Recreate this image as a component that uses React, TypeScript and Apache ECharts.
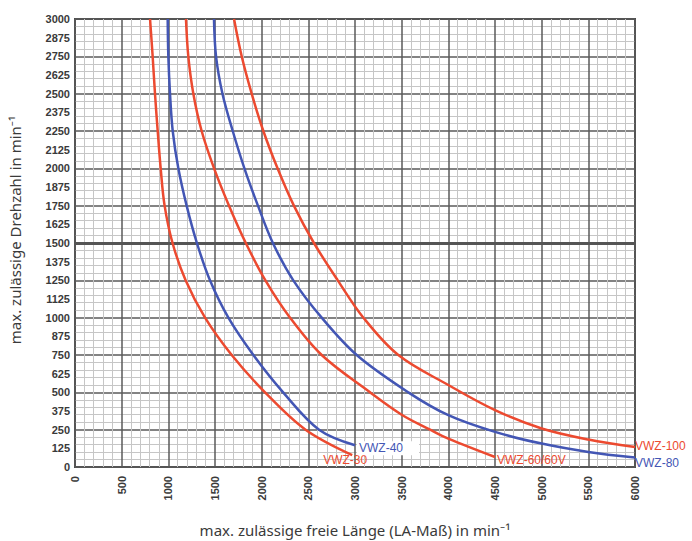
import React, { useEffect, useRef } from "react";
import * as echarts from "echarts";

// ---------- data ----------
const X_TICKS = [0, 500, 1000, 1500, 2000, 2500, 3000, 3500, 4000, 4500, 5000, 5500, 6000];
const Y_TICKS = [0, 125, 250, 375, 500, 625, 750, 875, 1000, 1125, 1250, 1375, 1500, 1625, 1750, 1875, 2000, 2125, 2250, 2375, 2500, 2625, 2750, 2875, 3000];

const SERIES_NAMES = ["VWZ-30", "VWZ-40", "VWZ-60/60V", "VWZ-80", "VWZ-100"];

const vwz30 = [
  [804, 3000], [832, 2750], [857, 2500], [886, 2250], [918, 2000], [960, 1750],
  [1045, 1500], [1185, 1250], [1393, 1000], [1679, 750], [2036, 500], [2470, 250], [2970, 80],
];
const vwz40 = [
  [993, 3000], [1000, 2750], [1018, 2500], [1047, 2250], [1107, 2000], [1196, 1750],
  [1306, 1500], [1446, 1250], [1643, 1000], [1911, 750], [2230, 500], [2615, 250], [3000, 146],
];
const vwz60 = [
  [1189, 3000], [1214, 2750], [1268, 2500], [1357, 2250], [1490, 2000], [1650, 1750],
  [1830, 1500], [2040, 1250], [2304, 1000], [2643, 750], [3161, 500], [3500, 350],
  [3804, 250], [4000, 190], [4500, 67],
];
const vwz80 = [
  [1489, 3000], [1511, 2750], [1580, 2500], [1690, 2250], [1815, 2000], [1960, 1750],
  [2120, 1500], [2339, 1250], [2643, 1000], [3018, 750], [3571, 500], [4000, 347],
  [4500, 235], [5000, 157], [5500, 101], [6000, 63],
];
const vwz100 = [
  [1704, 3000], [1786, 2750], [1893, 2500], [2018, 2250], [2170, 2000], [2345, 1750],
  [2560, 1500], [2815, 1250], [3090, 1000], [3464, 750], [4000, 549],
  [4500, 381], [5000, 258], [5500, 184], [6000, 134],
];

const SERIES_DATA = [vwz30, vwz40, vwz60, vwz80, vwz100];

const RED = "#ec4a30";
const BLUE = "#4356b4";
const SERIES_COLORS = [RED, BLUE, RED, BLUE, RED];
const LABEL_OFFSETS: [number, number][] = [[-29, 5], [2, 3], [2, 3], [0, 5], [0, -1]];

const X_TITLE = "max. zulässige freie Länge (LA-Maß) in min⁻¹";
const Y_TITLE = "max. zulässige Drehzahl in min⁻¹";

const TICK_FONT = "'Liberation Sans Narrow', 'Arial Narrow', 'Liberation Sans', Arial, sans-serif";
const TITLE_FONT = "'Noto Sans', 'Open Sans', sans-serif";

export default function App() {
  const ref = useRef<HTMLDivElement>(null);

  useEffect(() => {
    document.body.style.margin = "0";
    if (!ref.current) return;
    const chart = echarts.init(ref.current, undefined, { renderer: "svg" });

    const xStep = X_TICKS[1] - X_TICKS[0];
    const yStep = Y_TICKS[1] - Y_TICKS[0];

    const series: any[] = SERIES_DATA.map((d, i) => ({
      type: "line",
      name: SERIES_NAMES[i],
      data: d,
      smooth: 0.35,
      showSymbol: false,
      symbol: "none",
      z: 5,
      lineStyle: { color: SERIES_COLORS[i], width: 2.5 },
      markPoint: {
        silent: true,
        symbol: "circle",
        symbolSize: 0,
        z: 6,
        data: [
          {
            coord: d[d.length - 1],
            label: {
              show: true,
              position: "right",
              distance: 0,
              offset: LABEL_OFFSETS[i],
              formatter: SERIES_NAMES[i],
              color: SERIES_COLORS[i],
              fontSize: 12,
              lineHeight: 12,
              fontFamily: "'Liberation Sans', Arial, sans-serif",
              ...(i === 1
                ? { backgroundColor: "#ffffff", padding: [1, 16, 1, 2] }
                : {}),
            },
          },
        ],
      },
    }));

    // thick 1500 reference line
    series[0].markLine = {
      silent: true,
      symbol: "none",
      label: { show: false },
      lineStyle: { color: "#555", width: 3, type: "solid" },
      data: [{ yAxis: 1500 }],
      z: 3,
    };

    const tickLabel = {
      fontSize: 11,
      fontWeight: "bold",
      color: "#3a3a3a",
      fontFamily: TICK_FONT,
      formatter: (v: number) => String(v),
    };

    chart.setOption({
      animation: false,
      backgroundColor: "#ffffff",
      grid: {
        left: 75,
        right: 57,
        top: 19,
        bottom: 74,
        containLabel: false,
        outerBoundsMode: "none",
        show: true,
        borderColor: "#4a4a4a",
        borderWidth: 2,
        backgroundColor: "#ffffff",
      },
      graphic: [
        {
          type: "text",
          x: 355,
          y: 530,
          style: {
            text: X_TITLE,
            fontSize: 15,
            fill: "#3a3a3a",
            fontFamily: TITLE_FONT,
            align: "center",
            verticalAlign: "middle",
          },
        },
        {
          type: "text",
          x: 15,
          y: 230,
          rotation: Math.PI / 2,
          style: {
            text: Y_TITLE,
            fontSize: 15,
            fill: "#3a3a3a",
            fontFamily: TITLE_FONT,
            align: "center",
            verticalAlign: "middle",
          },
        },
      ],
      xAxis: {
        type: "value",
        min: X_TICKS[0],
        max: X_TICKS[X_TICKS.length - 1],
        interval: xStep,
        axisLine: { show: false },
        axisTick: { show: false },
        axisLabel: { ...tickLabel, rotate: 90, margin: 9 },
        splitLine: { show: true, lineStyle: { color: "#5a5a5a", width: 1.5 } },
        minorTick: { show: false, splitNumber: 5 },
        minorSplitLine: { show: true, lineStyle: { color: "#c6c6c6", width: 1 } },
      },
      yAxis: [
        {
          type: "value",
          min: Y_TICKS[0],
          max: Y_TICKS[Y_TICKS.length - 1],
          interval: yStep,
          axisLine: { show: false },
          axisTick: { show: false },
          splitLine: { show: false },
          axisLabel: { ...tickLabel, margin: 5 },
        },
        {
          type: "value",
          position: "right",
          min: Y_TICKS[0],
          max: Y_TICKS[Y_TICKS.length - 1],
          interval: yStep * 2,
          axisLine: { show: false },
          axisTick: { show: false },
          axisLabel: { show: false },
          splitLine: { show: true, lineStyle: { color: "#5a5a5a", width: 1.5 } },
          minorTick: { show: false, splitNumber: 5 },
          minorSplitLine: { show: true, lineStyle: { color: "#c6c6c6", width: 1 } },
        },
      ],
      series,
    });

    return () => chart.dispose();
  }, []);

  return <div ref={ref} style={{ width: 692, height: 541 }} />;
}
